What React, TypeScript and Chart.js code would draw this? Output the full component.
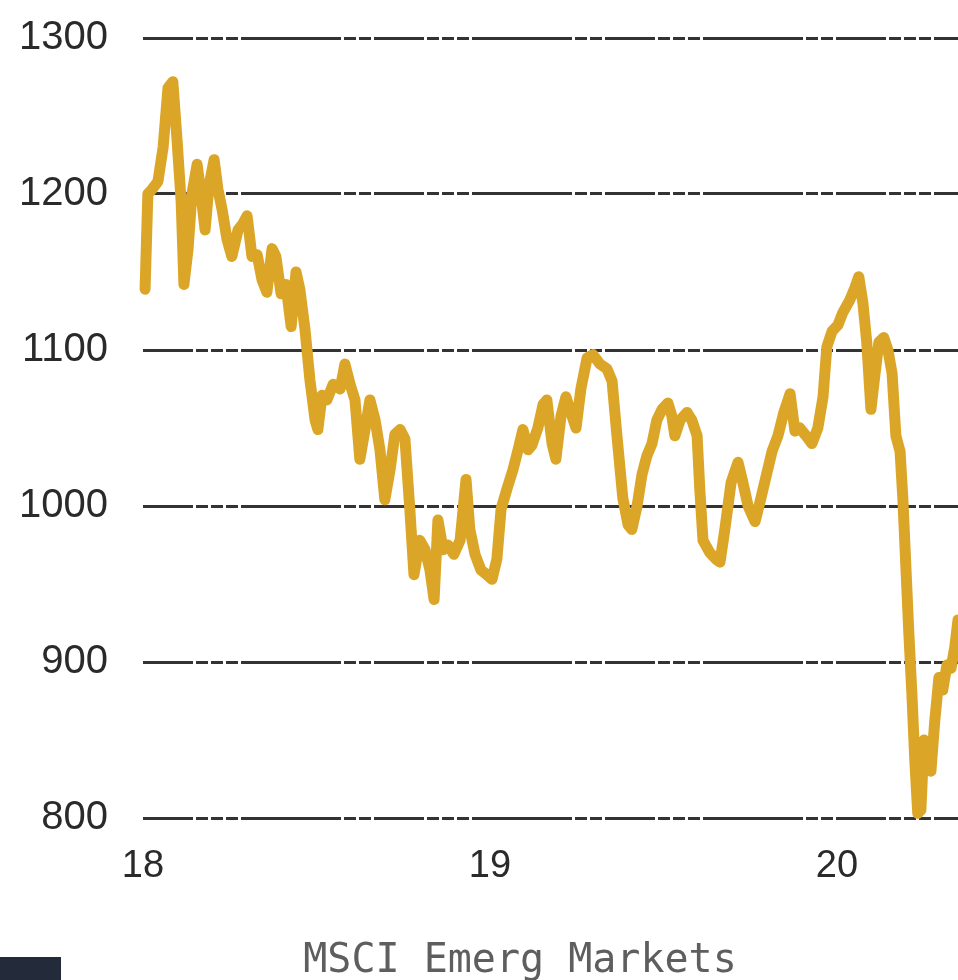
import React, { useEffect, useRef } from "react";
import { Chart, registerables } from "chart.js";

Chart.register(...registerables);

const title = "MSCI Emerg Markets";
const yTicks = [800, 900, 1000, 1100, 1200, 1300];
const xTickLabels = ["18", "19", "20"];
const xTickYears = [2018, 2019, 2020];

const dates = [
  2018.006, 2018.014, 2018.026, 2018.043, 2018.058, 2018.072, 2018.086, 2018.098, 2018.110, 2018.118,
  2018.130, 2018.141, 2018.156, 2018.167, 2018.179, 2018.190, 2018.205, 2018.216, 2018.228, 2018.242,
  2018.256, 2018.274, 2018.288, 2018.300, 2018.314, 2018.329, 2018.343, 2018.357, 2018.372, 2018.383,
  2018.398, 2018.412, 2018.427, 2018.441, 2018.452, 2018.467, 2018.481, 2018.496, 2018.504, 2018.516,
  2018.530, 2018.548, 2018.568, 2018.582, 2018.597, 2018.611, 2018.625, 2018.640, 2018.654, 2018.669,
  2018.683, 2018.697, 2018.712, 2018.726, 2018.741, 2018.755, 2018.769, 2018.781, 2018.798, 2018.813,
  2018.827, 2018.839, 2018.850, 2018.865, 2018.879, 2018.896, 2018.914, 2018.931, 2018.942, 2018.957,
  2018.974, 2018.991, 2019.006, 2019.020, 2019.032, 2019.049, 2019.066, 2019.081, 2019.095, 2019.110,
  2019.121, 2019.138, 2019.153, 2019.164, 2019.179, 2019.190, 2019.205, 2019.219, 2019.233, 2019.248,
  2019.262, 2019.280, 2019.297, 2019.317, 2019.337, 2019.352, 2019.366, 2019.383, 2019.398, 2019.409,
  2019.424, 2019.438, 2019.452, 2019.467, 2019.481, 2019.496, 2019.513, 2019.524, 2019.533, 2019.548,
  2019.568, 2019.582, 2019.597, 2019.605, 2019.614, 2019.634, 2019.651, 2019.663, 2019.677, 2019.695,
  2019.715, 2019.729, 2019.744, 2019.764, 2019.781, 2019.798, 2019.813, 2019.830, 2019.847, 2019.865,
  2019.879, 2019.893, 2019.911, 2019.928, 2019.945, 2019.960, 2019.971, 2019.986, 2020.003, 2020.017,
  2020.037, 2020.052, 2020.063, 2020.075, 2020.086, 2020.098, 2020.110, 2020.121, 2020.135, 2020.147,
  2020.159, 2020.170, 2020.182, 2020.190, 2020.199, 2020.207, 2020.216, 2020.225, 2020.233, 2020.242,
  2020.251, 2020.262, 2020.271, 2020.282, 2020.294, 2020.305, 2020.317, 2020.329, 2020.340, 2020.349,
];

const values = [
  1139, 1200, 1203, 1208, 1230, 1268, 1272, 1235, 1195, 1142,
  1165, 1200, 1219, 1200, 1177, 1205, 1222, 1203, 1190, 1171,
  1160, 1177, 1181, 1186, 1160, 1161, 1145, 1137, 1165, 1160,
  1136, 1142, 1115, 1150, 1139, 1113, 1081, 1055, 1049, 1071,
  1068, 1078, 1075, 1091, 1078, 1068, 1030, 1049, 1068, 1055,
  1036, 1004, 1023, 1046, 1049, 1043, 998, 956, 978, 972,
  959, 940, 991, 972, 975, 969, 978, 1017, 985, 969,
  959, 956, 953, 966, 998, 1011, 1023, 1036, 1049, 1036,
  1039, 1050, 1065, 1068, 1040, 1030, 1058, 1070, 1060, 1050,
  1075, 1095, 1097, 1091, 1088, 1080, 1045, 1005, 988, 985,
  1000, 1020, 1032, 1040, 1055, 1062, 1066, 1058, 1045, 1055,
  1060, 1055, 1045, 1010, 978, 970, 966, 964, 985, 1015,
  1028, 1015, 1000, 990, 1005, 1021, 1035, 1045, 1060, 1072,
  1048, 1050, 1045, 1040, 1050, 1070, 1102, 1112, 1116, 1124,
  1132, 1140, 1147, 1130, 1105, 1062, 1085, 1105, 1108, 1100,
  1085, 1045, 1035, 1005, 960, 920, 880, 835, 803, 805,
  850, 840, 830, 862, 890, 882, 898, 896, 910, 927,
];

const titlePlugin = {
  id: "bottomTitle",
  afterDraw(chart: any) {
    const ctx = chart.ctx;
    ctx.save();
    ctx.font = "40px 'DejaVu Sans Mono', 'Liberation Mono', monospace";
    ctx.fillStyle = "#5e5e5e";
    ctx.textAlign = "center";
    ctx.textBaseline = "alphabetic";
    ctx.fillText(title, 520, 972);
    ctx.restore();
  },
};

export default function App() {
  const ref = useRef<HTMLCanvasElement | null>(null);

  useEffect(() => {
    if (!ref.current) return;
    const points = dates.map((d, i) => ({ x: d, y: values[i] }));
    const chart = new Chart(ref.current, {
      type: "line",
      data: {
        datasets: [
          {
            data: points,
            borderColor: "#DBA628",
            borderWidth: 11,
            pointRadius: 0,
            tension: 0,
            borderJoinStyle: "round",
            borderCapStyle: "round",
            clip: false as any,
          },
        ],
      },
      options: {
        animation: false,
        responsive: false,
        layout: { padding: { top: 38, left: 0, right: 0, bottom: 0 } },
        plugins: { legend: { display: false }, tooltip: { enabled: false }, title: { display: false } },
        scales: {
          x: {
            type: "linear",
            min: xTickYears[0],
            max: 2020.349,
            afterFit: (s: any) => {
              s.height = 162;
              s.paddingLeft = 0;
              s.paddingRight = 0;
            },
            afterBuildTicks: (s: any) => {
              s.ticks = xTickYears.map((v) => ({ value: v }));
            },
            ticks: {
              padding: 26,
              color: "#2a2a2a",
              font: { family: "'Liberation Sans', Arial, sans-serif", size: 38 },
              maxRotation: 0,
              callback: (v: any) => {
                const i = xTickYears.indexOf(Number(v));
                return i >= 0 ? xTickLabels[i] : "";
              },
            },
            grid: { display: false, drawTicks: false },
            border: { display: false },
          },
          y: {
            min: yTicks[0],
            max: yTicks[yTicks.length - 1],
            afterFit: (s: any) => {
              s.width = 143;
              s.paddingTop = 0;
              s.paddingBottom = 0;
            },
            afterBuildTicks: (s: any) => {
              s.ticks = yTicks.map((v) => ({ value: v }));
            },
            ticks: {
              padding: 35,
              color: "#2a2a2a",
              font: { family: "'Liberation Sans', Arial, sans-serif", size: 40 },
              callback: (v: any) => String(v),
            },
            grid: { color: "#333333", lineWidth: 3, drawTicks: false },
            border: { display: false, dash: [50, 3, 12, 3, 12, 3, 12, 3, 100, 3, 12, 3, 12, 3] },
          },
        },
      },
      plugins: [titlePlugin],
    });
    return () => chart.destroy();
  }, []);

  return (
    <div style={{ position: "absolute", left: 0, top: 0, width: 958, height: 980, background: "#fff", overflow: "hidden" }}>
      <canvas ref={ref} width={958} height={980} style={{ display: "block" }} />
      <div style={{ position: "absolute", left: 0, top: 957, width: 61, height: 23, background: "#232b3a" }} />
    </div>
  );
}
